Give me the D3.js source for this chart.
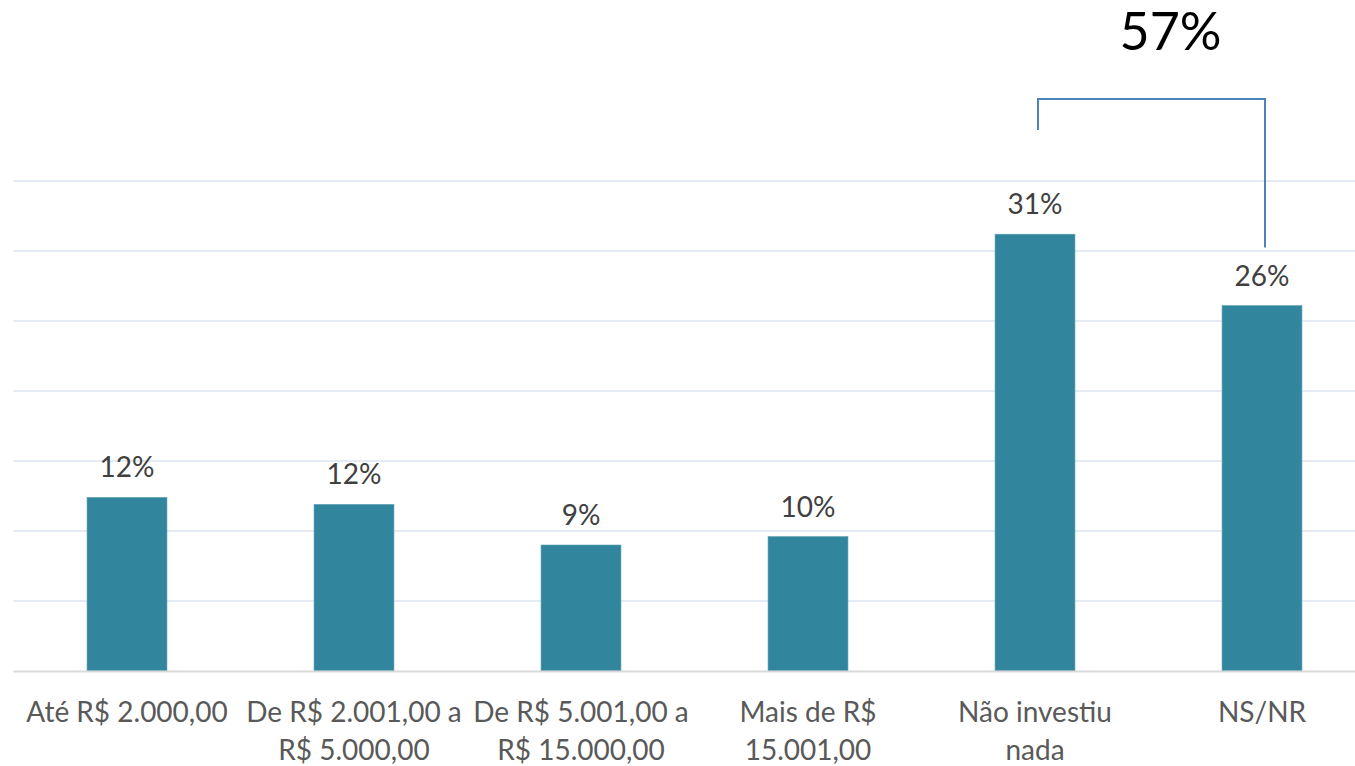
<!DOCTYPE html>
<html>
<head>
<meta charset="utf-8">
<script src="https://cdn.jsdelivr.net/npm/d3@7"></script>
<style>
  html, body { margin: 0; padding: 0; background: #ffffff; }
  svg { display: block; }
  text { font-family: Lato, "Open Sans", sans-serif; }
</style>
</head>
<body>
<svg id="chart" width="1355" height="766"></svg>
<script>
// Investment ranges (label lines) and share of respondents (%)
const categories = [
  ["Até R$ 2.000,00"],
  ["De R$ 2.001,00 a", "R$ 5.000,00"],
  ["De R$ 5.001,00 a", "R$ 15.000,00"],
  ["Mais de R$", "15.001,00"],
  ["Não investiu", "nada"],
  ["NS/NR"]
];
const values = [12.4, 11.9, 9.0, 9.6, 31.2, 26.1];
const gridTicks = [5, 10, 15, 20, 25, 30, 35];
const bracketIndices = [4, 5];
const bracketLabel = "57%";

const svg = d3.select("#chart");
const W = 1355, H = 766;
const plot = { left: 13.5, right: 1375.5, top: 181, bottom: 671 };

const x = d3.scaleBand()
  .domain(d3.range(categories.length))
  .range([plot.left, plot.right])
  .paddingInner(0.648)
  .paddingOuter(0.324);

const y = d3.scaleLinear()
  .domain([0, 35])
  .range([plot.bottom, plot.top]);

// horizontal gridlines
svg.append("g")
  .selectAll("line")
  .data(gridTicks)
  .join("line")
  .attr("x1", plot.left)
  .attr("x2", W)
  .attr("y1", d => y(d))
  .attr("y2", d => y(d))
  .attr("stroke", "#dce4ef")
  .attr("stroke-width", 1.6);

// bars
svg.append("g")
  .selectAll("rect")
  .data(values)
  .join("rect")
  .attr("x", (d, i) => x(i))
  .attr("width", x.bandwidth())
  .attr("y", d => y(d))
  .attr("height", d => y(0) - y(d))
  .attr("fill", "#31859c")
  .attr("stroke", "#5aa1b4")
  .attr("stroke-width", 0.6);

// category axis baseline
svg.append("line")
  .attr("x1", plot.left)
  .attr("x2", W)
  .attr("y1", y(0) + 0.5)
  .attr("y2", y(0) + 0.5)
  .attr("stroke", "#d9d9d9")
  .attr("stroke-width", 2);

// value labels
svg.append("g")
  .selectAll("text")
  .data(values)
  .join("text")
  .attr("x", (d, i) => x(i) + x.bandwidth() / 2)
  .attr("y", d => y(d) - 20)
  .attr("text-anchor", "middle")
  .attr("font-size", 28)
  .attr("fill", "#404040")
  .text(d => Math.round(d) + "%");

// category labels
const labelG = svg.append("g");
categories.forEach((lines, i) => {
  const t = labelG.append("text")
    .attr("x", x(i) + x.bandwidth() / 2)
    .attr("y", 722)
    .attr("text-anchor", "middle")
    .attr("font-size", 28)
    .attr("fill", "#595959");
  lines.forEach((ln, j) => {
    t.append("tspan")
      .attr("x", x(i) + x.bandwidth() / 2)
      .attr("dy", j === 0 ? 0 : 38)
      .text(ln);
  });
});

// bracket joining the last two bars
const bx0 = x(bracketIndices[0]) + x.bandwidth() / 2 + 3;
const bx1 = x(bracketIndices[1]) + x.bandwidth() / 2 + 3;
const bTop = y(35) - 82;
const path = d3.path();
path.moveTo(bx0, bTop + 31);
path.lineTo(bx0, bTop);
path.lineTo(bx1, bTop);
path.lineTo(bx1, y(values[bracketIndices[1]]) - 58);
svg.append("path")
  .attr("d", path.toString())
  .attr("fill", "none")
  .attr("stroke", "#4f81bd")
  .attr("stroke-width", 2);

svg.append("text")
  .attr("x", (bx0 + bx1) / 2 + 19)
  .attr("y", 50)
  .attr("text-anchor", "middle")
  .attr("font-size", 52)
  .attr("fill", "#000000")
  .text(bracketLabel);
</script>
</body>
</html>
